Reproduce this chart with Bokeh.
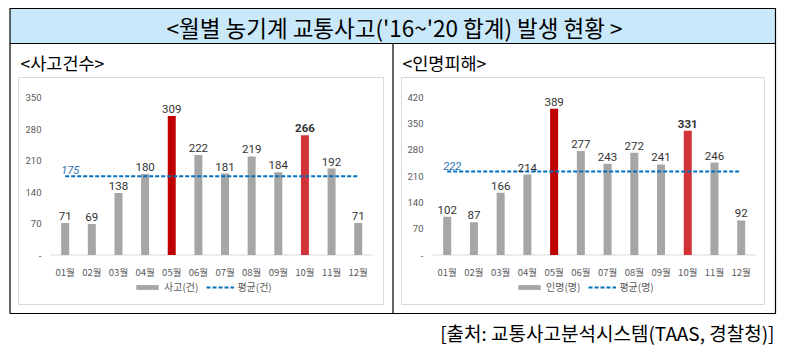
from bokeh.plotting import figure
from bokeh.models import Range1d, ColumnDataSource, Legend, LegendItem
from bokeh.core.properties import value
from bokeh.embed import file_html
from bokeh.resources import INLINE

# ---------------- data ----------------
months = ["01월", "02월", "03월", "04월", "05월", "06월",
          "07월", "08월", "09월", "10월", "11월", "12월"]
accidents = [71, 69, 138, 180, 309, 222, 181, 219, 184, 266, 192, 71]
injuries = [102, 87, 166, 214, 389, 277, 243, 272, 241, 331, 246, 92]
avg_accidents = 175
avg_injuries = 222
acc_ticks = [0, 70, 140, 210, 280, 350]
inj_ticks = [0, 70, 140, 210, 280, 350, 420]
title_text = "<월별 농기계 교통사고('16~'20 합계) 발생 현황 >"
left_subtitle = "<사고건수>"
right_subtitle = "<인명피해>"
acc_legend = ["사고(건)", "평균(건)"]
inj_legend = ["인명(명)", "평균(명)"]
source_text = "[출처: 교통사고분석시스템(TAAS, 경찰청)]"
peak_month = "05월"
second_month = "10월"

# ---------------- styles ----------------
W, H = 787, 351
KR_NAME = "Noto Sans CJK KR"
KR = value(KR_NAME)
NUM = value("Roboto")
GRAY = "#A6A6A6"
RED1 = "#C00000"
RED2 = "#D13438"
BLUE = "#0070C0"
TXT = "#595959"

p = figure(width=W, height=H, x_range=Range1d(0, W), y_range=Range1d(H, 0),
           x_axis_type=None, y_axis_type=None, toolbar_location=None,
           output_backend="svg", min_border=0, outline_line_color=None,
           background_fill_color="white", border_fill_color="white")

# ---------------- table frame ----------------
p.quad(left=9.5, right=775, top=8, bottom=43, fill_color="#C9E8F9", line_color=None)
p.quad(left=9.5, right=775, top=8, bottom=313, fill_color=None, line_color="black", line_width=1.2)
p.segment(x0=[9.5, 392.5], x1=[775, 392.5], y0=[43, 43], y1=[43, 313], line_color="black", line_width=1.2)
p.quad(left=[18, 401], right=[383, 764], top=[77, 77], bottom=[304, 304],
       fill_color=None, line_color="#D9D9D9", line_width=1)

p.text(x=[394], y=[26], text=[title_text], text_align="center", text_baseline="middle",
       text_font=KR, text_font_size="22.5px", text_color="black")
p.text(x=[20, 402], y=[62, 62], text=[left_subtitle, right_subtitle], text_align="left",
       text_baseline="middle", text_font=KR, text_font_size="17.5px", text_color="black")
p.text(x=[774], y=[332], text=[source_text], text_align="right", text_baseline="middle",
       text_font=KR, text_font_size="19px", text_color="black")


def chart(name, values, ticks, avg, legend_labels, x_first, x_last, y_zero, y_top_px,
          tick_x, legend_x):
    n = len(values)
    step = (x_last - x_first) / (n - 1)
    xr, yr = name + "_x", name + "_y"
    p.extra_x_ranges[xr] = Range1d(1 - x_first / step, 1 + (W - x_first) / step)
    k = (y_zero - y_top_px) / ticks[-1]
    p.extra_y_ranges[yr] = Range1d(-(H - y_zero) / k, y_zero / k)

    idx = list(range(1, n + 1))
    colors = [RED1 if m == peak_month else RED2 if m == second_month else GRAY for m in months]
    styles = ["bold" if m == second_month else "normal" for m in months]
    src = ColumnDataSource(dict(x=idx, top=values, color=colors,
                                label=[str(v) for v in values], fstyle=styles))

    # baseline
    p.segment(x0=[0.45], x1=[n + 0.55], y0=[0], y1=[0], line_color="#D9D9D9", line_width=1,
              x_range_name=xr, y_range_name=yr)
    bars = p.vbar(x="x", top="top", bottom=0, width=0.3, fill_color="color", line_color=None,
                  source=src, x_range_name=xr, y_range_name=yr)
    avg_line = p.line(x=[idx[0], idx[-1]], y=[avg, avg], line_color=BLUE, line_width=2,
                      line_dash="4 2", x_range_name=xr, y_range_name=yr)
    p.text(x="x", y="top", text="label", source=src, text_align="center",
           text_baseline="bottom", y_offset=-3, text_font=NUM, text_font_size="11.5px",
           text_font_style="fstyle", text_color="#333333", x_range_name=xr, y_range_name=yr)
    p.text(x=[idx[0]], y=[avg], text=[str(avg)], text_align="left", text_baseline="bottom",
           x_offset=-4, y_offset=-2, text_font=NUM, text_font_size="11px",
           text_font_style="italic", text_color="#2E75B6", x_range_name=xr, y_range_name=yr)
    # y tick labels
    p.text(x=[tick_x] * len(ticks), y=ticks, text=["-" if t == 0 else str(t) for t in ticks],
           text_align="right", text_baseline="middle", text_font=NUM, text_font_size="9.5px",
           text_color=TXT, y_range_name=yr)
    # month labels
    p.text(x=idx, y=[271] * n, text=months, text_align="center", text_baseline="middle",
           text_font=KR, text_font_size="9.5px", text_color=TXT, x_range_name=xr)

    leg = Legend(items=[LegendItem(label=legend_labels[0], renderers=[bars]),
                        LegendItem(label=legend_labels[1], renderers=[avg_line])],
                 orientation="horizontal", location=(legend_x, 57),
                 glyph_width=28, glyph_height=6, label_height=6, label_standoff=3,
                 spacing=8, padding=0, margin=0, border_line_color=None,
                 background_fill_alpha=0, label_text_font=KR_NAME, label_text_font_size="10px",
                 label_text_color=TXT)
    p.add_layout(leg)


chart("acc", accidents, acc_ticks, avg_accidents, acc_legend,
      64.7, 357.7, 254.5, 97.0, 41, 133)
chart("inj", injuries, inj_ticks, avg_injuries, inj_legend,
      446.7, 740.7, 254.5, 96.7, 423, 515)

open("out.html", "w").write(file_html(p, INLINE))
